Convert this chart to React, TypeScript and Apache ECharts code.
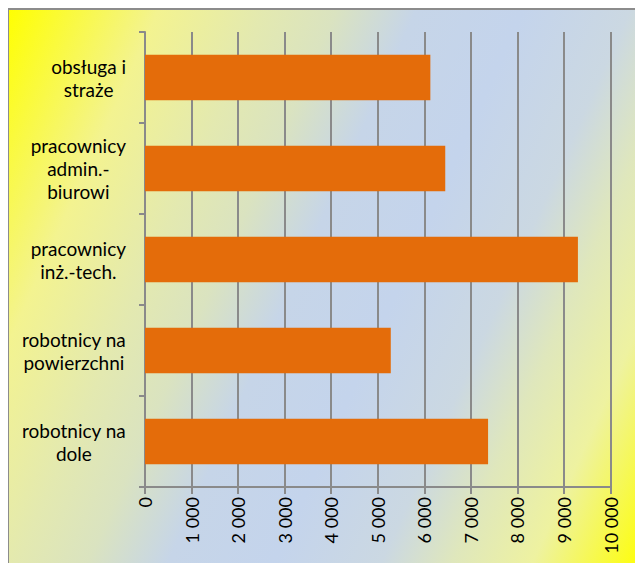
import React, { useEffect, useRef } from "react";
import * as echarts from "echarts";

const categories = [
  "robotnicy na\ndole",
  "robotnicy na\npowierzchni",
  "pracownicy\ninż.-tech.",
  "pracownicy\nadmin.-\nbiurowi",
  "obsługa i\nstraże",
];
const values = [7370, 5280, 9300, 6450, 6130];
const xMin = 0;
const xMax = 10000;
const xInterval = 1000;

const FONT = "Lato, 'Open Sans', sans-serif";
const GRID_COLOR = "#8a8a8a";

function fmt(v: number): string {
  return String(v).replace(/\B(?=(\d{3})+(?!\d))/g, " ");
}

export default function App() {
  const ref = useRef<HTMLDivElement>(null);
  useEffect(() => {
    if (!ref.current) return;
    document.documentElement.style.overflow = "hidden";
    document.body.style.overflow = "hidden";
    const chart = echarts.init(ref.current, undefined, { renderer: "svg" });
    const bg = new echarts.graphic.LinearGradient(
      0,
      0,
      740,
      333,
      [
        { offset: 0, color: "#ffff00" },
        { offset: 0.17, color: "#f3f390" },
        { offset: 0.29, color: "#e3e9b0" },
        { offset: 0.37, color: "#dae3c0" },
        { offset: 0.46, color: "#c6d5e8" },
        { offset: 0.58, color: "#c4d4ec" },
        { offset: 0.7, color: "#cbd8e2" },
        { offset: 0.78, color: "#dfe7bc" },
        { offset: 0.87, color: "#eef2a0" },
        { offset: 1, color: "#ffff00" },
      ],
      true
    );
    chart.setOption({
      animation: false,
      graphic: [
        {
          type: "rect",
          z: -10,
          silent: true,
          shape: { x: 0, y: 1, width: 634, height: 600 },
          style: { fill: bg, stroke: "#8c8c8c", lineWidth: 2 },
        },
      ],
      grid: { left: 137, right: 32.5, top: 24, bottom: 76, containLabel: false },
      xAxis: {
        type: "value",
        min: xMin,
        max: xMax,
        interval: xInterval,
        axisLine: { show: true, lineStyle: { color: GRID_COLOR, width: 2 } },
        axisTick: { show: true, length: 7, lineStyle: { color: GRID_COLOR, width: 2 } },
        splitLine: { show: true, lineStyle: { color: GRID_COLOR, width: 2 } },
        axisLabel: {
          rotate: 90,
          margin: 10,
          color: "#000",
          fontFamily: FONT,
          fontSize: 18,
          formatter: (v: number) => fmt(v),
        },
      },
      yAxis: {
        type: "category",
        data: categories,
        axisLine: { show: true, lineStyle: { color: GRID_COLOR, width: 2 } },
        axisTick: { show: true, length: 6, lineStyle: { color: GRID_COLOR, width: 2 } },
        splitLine: { show: false },
        axisLabel: {
          margin: 19,
          align: "right",
          color: "#000",
          fontFamily: FONT,
          fontSize: 19,
          lineHeight: 23,
          formatter: (v: string) =>
            v
              .split("\n")
              .map((l) => `{a|${l}}`)
              .join("\n"),
          rich: {
            a: {
              align: "center",
              color: "#000",
              fontFamily: FONT,
              fontSize: 19,
              lineHeight: 23,
            },
          },
        },
      },
      series: [
        {
          type: "bar",
          data: values,
          barWidth: "50%",
          itemStyle: { color: "#e46c0a" },
        },
      ],
    });
    return () => chart.dispose();
  }, []);
  return <div ref={ref} style={{ width: 635, height: 555 }} />;
}
